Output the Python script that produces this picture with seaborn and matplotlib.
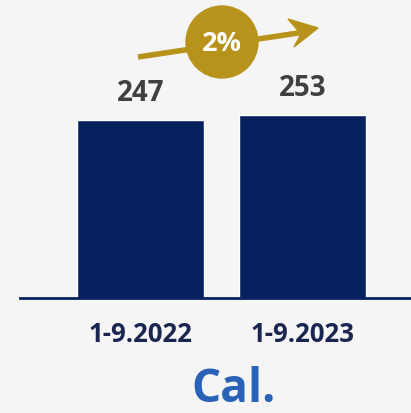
import matplotlib
matplotlib.use("Agg")
import matplotlib.pyplot as plt
import seaborn as sns
import pandas as pd
from matplotlib.patches import Ellipse, Polygon
from matplotlib.lines import Line2D

periods = ["1-9.2022", "1-9.2023"]
amounts = [247, 253]
growth_label = "2%"
brand = "Cal."

BG = "#f5f5f5"
NAVY = "#06215e"
GOLD = "#b8931c"

sns.set_theme(style="white")
plt.rcParams["font.family"] = ["Open Sans", "DejaVu Sans"]

W, H = 411, 414
fig = plt.figure(figsize=(W / 100, H / 100), dpi=100, facecolor=BG)
ax = fig.add_axes([20 / W, (H - 299) / H, (W - 20) / W, 299 / H])
ax.set_facecolor(BG)

df = pd.DataFrame({"period": periods, "amount": amounts})
sns.barplot(data=df, x="period", y="amount", color=NAVY, saturation=1,
            width=0.784, ax=ax)

ax.set_xlim(-0.744, 1.67)
ax.set_ylim(0, 414)
for s in ["top", "right", "left"]:
    ax.spines[s].set_visible(False)
ax.spines["bottom"].set_color(NAVY)
ax.spines["bottom"].set_linewidth(2)
ax.set_yticks([])
ax.set_xlabel("")
ax.set_ylabel("")
ax.tick_params(axis="x", length=0, pad=16, labelsize=18.5, labelcolor="#1a2550")
for lbl in ax.get_xticklabels():
    lbl.set_fontweight("bold")

for i, v in enumerate(amounts):
    ax.text(i, v + 18, f"{v}", ha="center", va="bottom", fontsize=20,
            fontweight="bold", color="#404040")

# growth arrow with badge, drawn in figure pixels
def px(x, y):
    return (x / W, 1 - y / H)

shaft = Line2D([138 / W, 305 / W], [1 - 58 / H, 1 - 33 / H], transform=fig.transFigure,
               color=GOLD, linewidth=4, solid_capstyle="butt")
fig.lines.append(shaft)
head = Polygon([px(318, 29), px(288, 20), px(301, 35), px(294, 48)],
               closed=True, transform=fig.transFigure, color=GOLD)
fig.patches.append(head)
badge = Ellipse(px(222, 43), 72 / W, 72 / H, transform=fig.transFigure, color=GOLD)
fig.patches.append(badge)
fig.text(*px(222, 44), growth_label, ha="center", va="center",
         fontsize=19.5, fontweight="bold", color="white")

fig.text(*px(233, 390), brand, ha="center", va="center", fontsize=33,
         fontweight="bold", color="#2a62b8")

fig.savefig("out.png", dpi=100, facecolor=BG)
